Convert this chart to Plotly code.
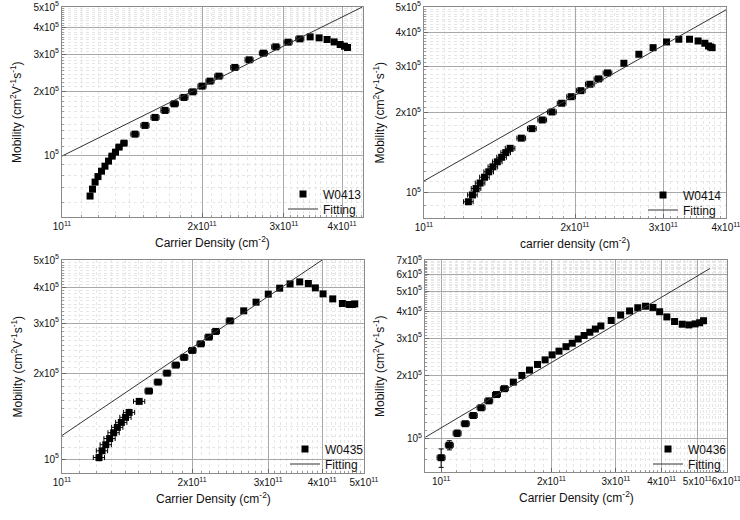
import numpy as np
import plotly.graph_objects as go

# ---------------- data (carrier density in 1e11 cm^-2, mobility in 1e5 cm^2/Vs) -------------
n1 = [1.149, 1.163, 1.178, 1.195, 1.216, 1.237, 1.259, 1.281, 1.303, 1.326, 1.359, 1.435,
      1.508, 1.585, 1.665, 1.744, 1.829, 1.910, 2.000, 2.081, 2.173, 2.352, 2.525, 2.710,
      2.881, 3.062, 3.245, 3.415, 3.570, 3.714, 3.846, 3.962, 4.047, 4.108]
mu1 = [0.641, 0.691, 0.746, 0.792, 0.840, 0.887, 0.937, 0.989, 1.033, 1.091, 1.139, 1.256,
       1.381, 1.506, 1.625, 1.746, 1.872, 1.989, 2.116, 2.235, 2.359, 2.593, 2.816, 3.028,
       3.243, 3.412, 3.537, 3.614, 3.575, 3.513, 3.422, 3.327, 3.266, 3.221]
ex1 = [0] * 7 + [1.5] * 4 + [2.0] * 16 + [0.8] * 7
ey1 = [0] * 34

n2 = [1.226, 1.249, 1.270, 1.294, 1.320, 1.346, 1.372, 1.400, 1.428, 1.455, 1.485, 1.563,
      1.641, 1.721, 1.799, 1.881, 1.965, 2.054, 2.141, 2.228, 2.322, 2.503, 2.681, 2.862,
      3.044, 3.221, 3.383, 3.519, 3.629, 3.691, 3.725, 3.753]
mu2 = [0.927, 0.983, 1.039, 1.090, 1.146, 1.201, 1.254, 1.310, 1.362, 1.418, 1.472, 1.607,
       1.745, 1.881, 2.016, 2.174, 2.301, 2.424, 2.563, 2.684, 2.826, 3.073, 3.322, 3.517,
       3.695, 3.783, 3.783, 3.727, 3.654, 3.569, 3.538, 3.517]
ex2 = [2.2] * 11 + [2.0] * 10 + [1.0] * 4 + [0] * 7
ey2 = [0] * 32

n3 = [1.218, 1.238, 1.263, 1.289, 1.317, 1.343, 1.372, 1.403, 1.430, 1.509, 1.588, 1.668,
      1.750, 1.834, 1.917, 2.003, 2.095, 2.186, 2.269, 2.448, 2.634, 2.813, 3.002, 3.190,
      3.372, 3.550, 3.717, 3.858, 4.020, 4.233, 4.456, 4.624, 4.699, 4.760]
mu3 = [1.012, 1.069, 1.123, 1.180, 1.237, 1.292, 1.345, 1.401, 1.458, 1.594, 1.733, 1.863,
       2.003, 2.137, 2.275, 2.407, 2.539, 2.680, 2.806, 3.057, 3.315, 3.556, 3.794, 3.981,
       4.122, 4.189, 4.135, 3.991, 3.802, 3.651, 3.518, 3.490, 3.490, 3.507]
ex3 = [3.0] * 10 + [2.0] * 10 + [1.0] * 2 + [0] * 12
ey3 = [2.5, 1.5, 1.0] + [0] * 31

n4 = [1.000, 1.053, 1.106, 1.164, 1.224, 1.286, 1.349, 1.416, 1.488, 1.574, 1.661, 1.742,
      1.832, 1.922, 2.008, 2.097, 2.191, 2.279, 2.366, 2.456, 2.545, 2.635, 2.728, 2.911,
      3.089, 3.267, 3.440, 3.612, 3.784, 3.947, 4.130, 4.334, 4.548, 4.745, 4.932, 5.075, 5.200]
mu4 = [0.816, 0.935, 1.064, 1.181, 1.291, 1.405, 1.514, 1.622, 1.729, 1.857, 1.997, 2.116,
       2.251, 2.366, 2.498, 2.601, 2.731, 2.837, 2.969, 3.084, 3.196, 3.309, 3.422, 3.630,
       3.853, 4.028, 4.172, 4.241, 4.186, 3.994, 3.775, 3.591, 3.487, 3.461, 3.499, 3.544, 3.622]
ex4 = [2.5] * 9 + [0] * 28
ey4 = [10.0, 5.0, 3.5, 2.0, 1.5] + [0] * 32

# fitting lines (end points)
fit_n = [[1.0, 4.42], [1.0, 4.0], [1.0, 4.0], [0.906, 5.42]]
fit_mu = [[0.99, 5.0], [1.11, 4.88], [1.21, 5.0], [1.02, 6.4]]

names = ["W0413", "W0414", "W0435", "W0436"]
xtitles = ["Carrier Density (cm<sup>-2</sup>)", "carrier density (cm<sup>-2</sup>)",
           "Carrier Density (cm<sup>-2</sup>)", "Carrier Density (cm<sup>-2</sup>)"]
ytitle = "Mobility (cm<sup>2</sup>V<sup>-1</sup>s<sup>-1</sup>)"

x_ticks = [[1, 2, 3, 4], [1, 2, 3, 4], [1, 2, 3, 4, 5], [1, 2, 3, 4, 5, 6]]
y_ticks = [[1, 2, 3, 4, 5], [1, 2, 3, 4, 5], [1, 2, 3, 4, 5], [1, 2, 3, 4, 5, 6, 7]]

# ---------------- layout geometry (page pixels) ----------------
W, H = 740, 520
frames = [(62, 363, 7, 217), (424, 726, 7, 218), (62, 364, 260, 473), (425, 727, 260, 472)]
xranges = [[11.0, 11.647], [11.0, 11.602], [11.0, 11.699], [10.956, 11.780]]
yranges = [[4.708, 5.699], [4.906, 5.699], [4.951, 5.699], [4.844, 5.846]]
# legend rows (text left x, row centre y)
leg_pos = [(323, 194, 209), (683, 195, 210), (325, 449, 464), (688, 449, 464)]


def px(x):
    return min(1.0, max(0.0, x / W))


def py(y):
    return min(1.0, max(0.0, 1 - y / H))


FONT = "Arial, 'Liberation Sans', Arimo, sans-serif"

fig = go.Figure()
series = [(n1, mu1, ex1, ey1), (n2, mu2, ex2, ey2), (n3, mu3, ex3, ey3), (n4, mu4, ex4, ey4)]


def lab(v, e):
    return ("10<sup>%d</sup>" % e) if v == 1 else ("%dx10<sup>%d</sup>" % (v, e))


for i, (nn, mm, exx, eyy) in enumerate(series):
    k = "" if i == 0 else str(i + 1)
    xa, ya = "x" + k, "y" + k
    lega = "legend" + ("" if i == 0 else str(2 * i + 1))
    legb = "legend" + str(2 * i + 2)
    xs = [v * 1e11 for v in nn]
    ys = [v * 1e5 for v in mm]
    fig.add_trace(go.Scatter(
        x=xs, y=ys, mode="markers", name=names[i], xaxis=xa, yaxis=ya, legend=lega,
        marker=dict(symbol="square", size=7, color="black"),
        error_x=dict(type="data", array=[x * e / 100 for x, e in zip(xs, exx)],
                     color="black", thickness=1, width=2.5, visible=True),
        error_y=dict(type="data", array=[y * e / 100 for y, e in zip(ys, eyy)],
                     color="black", thickness=1, width=2.5, visible=True),
        hoverinfo="skip", cliponaxis=True))
    fig.add_trace(go.Scatter(
        x=[v * 1e11 for v in fit_n[i]], y=[v * 1e5 for v in fit_mu[i]], mode="lines",
        name="Fitting", xaxis=xa, yaxis=ya, legend=legb,
        line=dict(color="#333333", width=1), hoverinfo="skip"))

    x0, x1, t, b = frames[i]
    xdom = [px(x0), px(x1)]
    ydom = [py(b), py(t)]
    minor_x = [m * 1e10 for m in range(8, 70)]
    minor_y = [m * 1e4 for m in range(5, 80)]
    axcommon = dict(type="log", showline=True, linecolor="#8a8a8a", linewidth=1, mirror=True,
                    showgrid=True, gridcolor="#a9a9a9", gridwidth=1, zeroline=False,
                    ticks="inside", ticklen=4, tickcolor="#6a6a6a", tickangle=0,
                    ticklabeloverflow="allow",
                    tickfont=dict(family=FONT, size=10, color="#111111"), automargin=False)
    minor = dict(showgrid=True, gridcolor="#e6e6e6", griddash="dot", gridwidth=1,
                 ticks="inside", ticklen=2, tickcolor="#9a9a9a")
    fig.layout["xaxis" + k] = dict(
        axcommon, domain=xdom, range=xranges[i], anchor=ya,
        tickmode="array", tickvals=[v * 1e11 for v in x_ticks[i]],
        ticktext=[lab(v, 11) for v in x_ticks[i]],
        minor=dict(minor, tickmode="array", tickvals=minor_x))
    fig.layout["yaxis" + k] = dict(
        axcommon, domain=ydom, range=yranges[i], anchor=xa,
        tickmode="array", tickvals=[v * 1e5 for v in y_ticks[i]],
        ticktext=[lab(v, 5) for v in y_ticks[i]],
        minor=dict(minor, tickmode="array", tickvals=minor_y))

    # legend rows in the lower right of each panel
    tx, ra, rb = leg_pos[i]
    for lg, ry in ((lega, ra), (legb, rb)):
        fig.layout[lg] = dict(x=px(tx - 40), y=py(ry), xanchor="left", yanchor="middle",
                              bgcolor="rgba(0,0,0,0)", borderwidth=0, tracegroupgap=0,
                              itemwidth=30, font=dict(family=FONT, size=12, color="#111111"))

    # axis titles
    fig.add_annotation(x=px((x0 + x1) / 2), y=py(b + 25), xref="paper", yref="paper",
                       text=xtitles[i], showarrow=False, xanchor="center", yanchor="middle",
                       font=dict(family=FONT, size=12, color="#111111"))
    fig.add_annotation(x=px(x0 - 46), y=py((t + b) / 2), xref="paper", yref="paper",
                       text=ytitle, showarrow=False, textangle=-90, xanchor="center",
                       yanchor="middle", font=dict(family=FONT, size=12, color="#111111"))

fig.update_layout(width=W, height=H, margin=dict(l=0, r=0, t=0, b=0),
                  paper_bgcolor="white", plot_bgcolor="white", showlegend=True,
                  font=dict(family=FONT))

fig.write_html("out.html", config={"displayModeBar": False},
               post_script="document.body.style.margin='0';document.body.style.overflow='hidden';")
